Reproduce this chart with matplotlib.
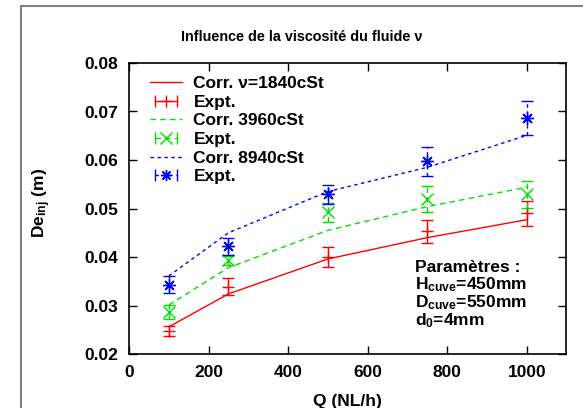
import matplotlib
matplotlib.use("Agg")
import matplotlib.pyplot as plt
from matplotlib.lines import Line2D
from matplotlib.patches import Rectangle
from matplotlib.legend_handler import HandlerLine2D, HandlerTuple

# data
q = [100, 250, 500, 750, 1000]
corr_1840 = [0.0256, 0.0324, 0.0396, 0.0440, 0.0477]
expt_1840 = [0.0247, 0.0339, 0.0400, 0.0453, 0.0490]
err_1840 = [0.0010, 0.0018, 0.0020, 0.0024, 0.0026]
corr_3960 = [0.0301, 0.0378, 0.0455, 0.0504, 0.0544]
expt_3960 = [0.0287, 0.0393, 0.0492, 0.0519, 0.0529]
err_3960 = [0.0014, 0.0010, 0.0020, 0.0027, 0.0027]
corr_8940 = [0.0361, 0.0450, 0.0535, 0.0585, 0.0651]
expt_8940 = [0.0343, 0.0422, 0.0529, 0.0597, 0.0686]
err_8940 = [0.0018, 0.0017, 0.0020, 0.0030, 0.0035]

x_ticks = [0, 200, 400, 600, 800, 1000]
y_ticks = [0.02, 0.03, 0.04, 0.05, 0.06, 0.07, 0.08]

plt.rcParams['font.family'] = ['Liberation Sans', 'DejaVu Sans']
plt.rcParams['font.weight'] = 'bold'
plt.rcParams['axes.labelweight'] = 'bold'
plt.rcParams['mathtext.fontset'] = 'custom'
plt.rcParams['mathtext.rm'] = 'Liberation Sans:bold'
plt.rcParams['mathtext.it'] = 'Liberation Sans:bold'
plt.rcParams['mathtext.bf'] = 'Liberation Sans:bold'
plt.rcParams['mathtext.default'] = 'regular'

RED, GREEN, BLUE = '#ff0000', '#00e000', '#0000ff'
ls_green = (0, (4, 3))
ls_blue = (0, (2.5, 2.5))
asterisk = (8, 2, 0)

fig = plt.figure(figsize=(5.83, 4.08), dpi=100)
ax = fig.add_axes([129 / 583, 1 - 354 / 408, 437 / 583, 291 / 408])

series = [
    (corr_1840, expt_1840, err_1840, RED, '-', '+', u'Corr. \u03bd=1840cSt'),
    (corr_3960, expt_3960, err_3960, GREEN, ls_green, 'x', 'Corr. 3960cSt'),
    (corr_8940, expt_8940, err_8940, BLUE, ls_blue, asterisk, 'Corr. 8940cSt'),
]

handles, labels, hmap = [], [], {}
for corr, expt, err, col, ls, mk, lab in series:
    ax.plot(q, corr, color=col, ls=ls, lw=1.0)
    eb = ax.errorbar(q, expt, yerr=err, fmt='none', ecolor=col, elinewidth=1.0,
                     capsize=4, capthick=1.0)
    eb[2][0].set_linestyle(ls)
    ax.plot(q, expt, ls='none', marker=mk, color=col, ms=9, mew=1.0)

    handles.append(Line2D([], [], color=col, ls=ls, lw=1.0))
    labels.append(lab)
    caps = Line2D([], [], color=col, ls=ls, lw=1.0, marker='|', ms=8, mew=1.0)
    mid = Line2D([], [], color=col, ls='none', marker=mk, ms=8, mew=1.0)
    hmap[caps] = HandlerLine2D(numpoints=2)
    hmap[mid] = HandlerLine2D(numpoints=1)
    handles.append((caps, mid))
    labels.append('Expt.')

hmap[tuple] = HandlerTuple(ndivide=1)

ax.set_xlim(0, 1098)
ax.set_ylim(0.02, 0.08)
ax.set_xticks(x_ticks)
ax.set_yticks(y_ticks)
ax.set_yticklabels(['%.2f' % v for v in y_ticks])
ax.tick_params(direction='in', top=True, right=True, length=6, width=1.0,
               labelsize=12.5, pad=8)
for s in ax.spines.values():
    s.set_linewidth(1.2)

ax.set_xlabel('Q (NL/h)', fontsize=12.5, labelpad=10)
fig.text(42 / 583, 1 - 203 / 408, r'De$_{inj}$ (m)', rotation=90,
         ha='center', va='center', fontsize=12.5)

fig.text(302 / 583, 1 - 37 / 408, u'Influence de la viscosit\u00e9 du fluide \u03bd',
         ha='center', va='center', fontsize=10.4)

leg = ax.legend(handles, labels, handler_map=hmap, loc='upper left',
                bbox_to_anchor=(150 / 583, 1 - 76 / 408),
                bbox_transform=fig.transFigure, frameon=False, fontsize=12.5,
                handlelength=1.85, handletextpad=0.65, labelspacing=0.2,
                borderpad=0, borderaxespad=0)

params = [u'Param\u00e8tres :', r'H$_{cuve}$=450mm', r'D$_{cuve}$=550mm',
          r'd$_0$=4mm']
for i, t in enumerate(params):
    fig.text(415 / 583, 1 - (267 + 18 * i) / 408, t, ha='left', va='center',
             fontsize=12.5)

# outer gray frame, cut by the right and bottom edges
fig.patches.append(Rectangle((21 / 583, -0.1), 1.5, 1 - 6 / 408 + 0.1,
                             transform=fig.transFigure, fill=False,
                             edgecolor='#808080', lw=1.5, clip_on=False))

fig.savefig('out.png', dpi=100)
